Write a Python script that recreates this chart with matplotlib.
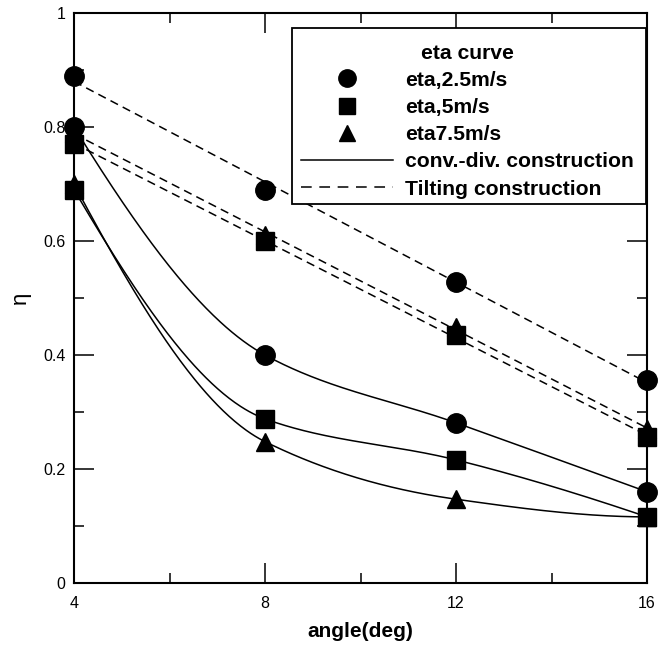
import numpy as np
import matplotlib
matplotlib.use("Agg")
import matplotlib.pyplot as plt
from matplotlib.lines import Line2D
from matplotlib.patches import Rectangle

plt.rcParams['font.family'] = ['Liberation Sans', 'DejaVu Sans']

# ---- data ----
angle = [4, 8, 12, 16]
# conv.-div. construction (solid curves)
cd_25 = [0.80, 0.40, 0.281, 0.16]
cd_5 = [0.69, 0.288, 0.216, 0.116]
cd_75 = [0.70, 0.248, 0.147, 0.116]
# Tilting construction (dashed lines)
tilt_25 = [0.889, 0.69, 0.528, 0.356]
tilt_5 = [0.77, 0.60, 0.435, 0.256]
tilt_75 = [0.79, 0.61, 0.45, 0.27]

labels = ["eta,2.5m/s", "eta,5m/s", "eta7.5m/s",
          "conv.-div. construction", "Tilting construction"]
legend_title = "eta curve"
xticks = [4, 8, 12, 16]
yticks = [0, 0.2, 0.4, 0.6, 0.8, 1]
ytick_labels = ["0", "0.2", "0.4", "0.6", "0.8", "1"]


def pchip(x, y, xs):
    """Monotone cubic Hermite (Fritsch-Carlson) smooth curve through points."""
    x = np.asarray(x, float)
    y = np.asarray(y, float)
    h = np.diff(x)
    d = np.diff(y) / h
    n = len(x)
    m = np.zeros(n)
    for k in range(1, n - 1):
        if d[k - 1] * d[k] <= 0:
            m[k] = 0
        else:
            w1 = 2 * h[k] + h[k - 1]
            w2 = h[k] + 2 * h[k - 1]
            m[k] = (w1 + w2) / (w1 / d[k - 1] + w2 / d[k])

    def end(h0, h1, d0, d1):
        s = ((2 * h0 + h1) * d0 - h0 * d1) / (h0 + h1)
        if np.sign(s) != np.sign(d0):
            s = 0
        elif np.sign(d0) != np.sign(d1) and abs(s) > abs(3 * d0):
            s = 3 * d0
        return s

    m[0] = end(h[0], h[1], d[0], d[1])
    m[-1] = end(h[-1], h[-2], d[-1], d[-2])
    out = np.empty_like(xs)
    for j, t in enumerate(xs):
        i = int(np.clip(np.searchsorted(x, t, side='right') - 1, 0, n - 2))
        s = (t - x[i]) / h[i]
        h00 = 2 * s ** 3 - 3 * s ** 2 + 1
        h10 = s ** 3 - 2 * s ** 2 + s
        h01 = -2 * s ** 3 + 3 * s ** 2
        h11 = s ** 3 - s ** 2
        out[j] = h00 * y[i] + h10 * h[i] * m[i] + h01 * y[i + 1] + h11 * h[i] * m[i + 1]
    return out


W, H = 661, 647
fig = plt.figure(figsize=(W / 100, H / 100), dpi=100)
ax = fig.add_axes([74 / W, 64 / H, 573 / W, 570 / H])

xs = np.linspace(4, 16, 400)
lw = 1.1
dash = (0, (5.5, 3.5))
for ys in (cd_25, cd_5, cd_75):
    ax.plot(xs, pchip(angle, ys, xs), color='black', lw=lw, zorder=2)
for ys in (tilt_25, tilt_5, tilt_75):
    p = np.polyfit(angle, ys, 1)
    ax.plot(xs, np.polyval(p, xs), color='black', lw=lw, linestyle=dash, zorder=2)

ms = 14
for ys in (cd_75, tilt_75):
    ax.plot(angle, ys, linestyle='none', marker='^', ms=ms - 1, color='black',
            clip_on=False, zorder=3)
for ys in (cd_5, tilt_5):
    ax.plot(angle, ys, linestyle='none', marker='s', ms=ms - 0.5, color='black',
            clip_on=False, zorder=4)
for ys in (cd_25, tilt_25):
    ax.plot(angle, ys, linestyle='none', marker='o', ms=ms, color='black',
            clip_on=False, zorder=5)

ax.set_xlim(4, 16)
ax.set_ylim(0, 1)
ax.set_xticks(xticks)
ax.set_xticklabels([str(v) for v in xticks])
ax.set_xticks([6, 10, 14], minor=True)
ax.set_yticks(yticks)
ax.set_yticklabels(ytick_labels)
ax.set_yticks([0.1, 0.3, 0.5, 0.7, 0.9], minor=True)
ax.tick_params(which='both', direction='in', top=True, right=True, width=1.1,
               labelsize=11.5)
ax.tick_params(which='major', length=14.4)
ax.tick_params(which='minor', length=7.2)
ax.tick_params(axis='x', which='major', pad=9.5)
ax.tick_params(axis='y', which='major', pad=6)
for s in ax.spines.values():
    s.set_linewidth(1.5)

ax.set_xlabel("angle(deg)", fontsize=15, fontweight='bold', labelpad=8)
ax.set_ylabel("η", fontsize=16, labelpad=9)

# legend frame (white box)
frame = Rectangle((292 / W, 1 - 204 / H), 354 / W, 176 / H,
                  transform=fig.transFigure, facecolor='white',
                  edgecolor='black', lw=1.3, clip_on=False, zorder=9)
ax.add_patch(frame)

handles = [
    Line2D([], [], linestyle='none', marker='o', ms=12.5, color='black'),
    Line2D([], [], linestyle='none', marker='s', ms=11.5, color='black'),
    Line2D([], [], linestyle='none', marker='^', ms=11.5, color='black'),
    Line2D([], [], color='black', lw=lw),
    Line2D([], [], color='black', lw=lw, linestyle=(0, (7, 5))),
]
leg = ax.legend(handles, labels, title=legend_title, loc='upper left',
                bbox_to_anchor=(290.5 / W, 1 - 33 / H),
                bbox_transform=fig.transFigure,
                prop={'weight': 'bold', 'size': 15.2},
                title_fontproperties={'weight': 'bold', 'size': 15.2},
                frameon=False,
                handlelength=4.35, handletextpad=0.58, labelspacing=0.39,
                borderpad=0.5, borderaxespad=0)
leg.set_zorder(10)

fig.savefig("out.png", dpi=100)
